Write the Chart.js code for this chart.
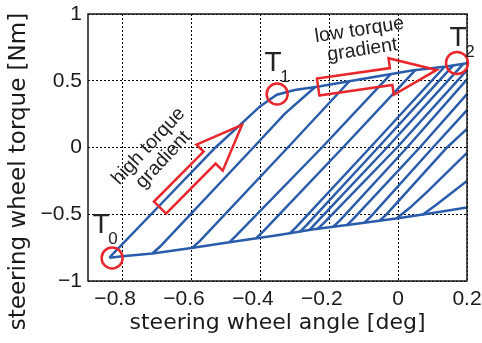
<!DOCTYPE html>
<html>
<head>
<meta charset="utf-8">
<script src="https://cdn.jsdelivr.net/npm/chart.js@4.4.1/dist/chart.umd.min.js"></script>
<style>
  html, body { margin: 0; padding: 0; background: #fff; }
  #wrap { width: 482px; height: 343px; }
</style>
</head>
<body>
<div id="wrap"><canvas id="chart" width="482" height="343"></canvas></div>
<script>
// steering wheel angle [deg] vs torque [Nm]
const upperBranch = [[-0.838, -0.825], [-0.7, -0.455], [-0.53, 0], [-0.45, 0.19], [-0.4, 0.31],
  [-0.352, 0.395], [-0.3, 0.43], [-0.23, 0.457], [-0.1, 0.515], [0.04, 0.577], [0.14, 0.607], [0.2, 0.632]];
const lowerBranch = [[0.2, -0.45], [0.1, -0.49], [0, -0.53], [-0.12, -0.572], [-0.245, -0.613],
  [-0.35, -0.658], [-0.49, -0.71], [-0.6, -0.752], [-0.713, -0.794], [-0.8, -0.815], [-0.838, -0.825]];
const innerLoops = [
  [[-0.713, -0.794], [-0.69, -0.74], [-0.42, 0], [-0.33, 0.25], [-0.24, 0.455]],
  [[-0.597, -0.75], [-0.575, -0.7], [-0.32, 0], [-0.14, 0.5]],
  [[-0.49, -0.71], [-0.47, -0.66], [-0.221, 0], [-0.02, 0.553]],
  [[-0.41, -0.675], [-0.39, -0.625], [-0.16, 0], [0.05, 0.58]],
  [[-0.315, -0.645], [-0.295, -0.595], [-0.081, 0], [0.135, 0.605]],
  [[-0.285, -0.632], [-0.265, -0.58], [-0.058, 0], [0.16, 0.615]],
  [[-0.258, -0.62], [-0.24, -0.57], [-0.032, 0], [0.19, 0.628]],
  [[-0.235, -0.613], [-0.215, -0.565], [-0.003, 0], [0.2, 0.58]],
  [[-0.19, -0.597], [-0.17, -0.55], [0.026, 0], [0.2, 0.51]],
  [[-0.15, -0.585], [-0.13, -0.535], [0.063, 0], [0.2, 0.4]],
  [[-0.1, -0.568], [-0.08, -0.52], [0.101, 0], [0.2, 0.28]],
  [[-0.055, -0.552], [-0.035, -0.505], [0.142, 0], [0.2, 0.14]],
  [[-0.005, -0.532], [0.035, -0.45], [0.085, -0.33], [0.2, -0.04]],
  [[0.07, -0.505], [0.11, -0.43], [0.2, -0.25]]
];
const xTicks = [-0.8, -0.6, -0.4, -0.2, 0, 0.2];
const yTicks = [-1, -0.5, 0, 0.5, 1];
const yTitle = 'steering wheel torque [Nm]';

const BLUE = '#2a5cab';
const RED = '#e8262b';

const toPts = arr => arr.map(([x, y]) => ({ x, y }));
const fmt = v => String(v).replace('-', '\u2212');

// red markers and arrows, in data coordinates
const circles = [
  { x: -0.830, y: -0.828, r: 10.5 },
  { x: -0.351, y: 0.401, r: 10.5 },
  { x: 0.171, y: 0.633, r: 11 }
];
const pointLabels = [
  { x: -0.862, y: -0.581, sub: '0' },
  { x: -0.363, y: 0.633, sub: '1' },
  { x: 0.174, y: 0.820, sub: '2' }
];
const arrows = [
  { from: [-0.691, -0.450], to: [-0.453, 0.169] },
  { from: [-0.232, 0.453], to: [0.112, 0.581] }
];
const notes = [
  { x: -0.703, y: -0.041, rot: -47, lines: ['high torque', 'gradient'] },
  { x: -0.108, y: 0.805, rot: -8.6, lines: ['low torque', 'gradient'] }
];

function blockArrow(ctx, x0, y0, x1, y1) {
  const dx = x1 - x0, dy = y1 - y0;
  const len = Math.hypot(dx, dy);
  const ux = dx / len, uy = dy / len;
  const nx = -uy, ny = ux;
  const body = 8.5, head = 18.5, headLen = 46;
  const bx = x1 - ux * headLen, by = y1 - uy * headLen;
  ctx.beginPath();
  ctx.moveTo(x0 + nx * body, y0 + ny * body);
  ctx.lineTo(bx + nx * body, by + ny * body);
  ctx.lineTo(bx + nx * head, by + ny * head);
  ctx.lineTo(x1, y1);
  ctx.lineTo(bx - nx * head, by - ny * head);
  ctx.lineTo(bx - nx * body, by - ny * body);
  ctx.lineTo(x0 - nx * body, y0 - ny * body);
  ctx.closePath();
  ctx.stroke();
}

const annotPlugin = {
  id: 'annot',
  afterDatasetsDraw(chart) {
    const { ctx, chartArea: a, scales: { x, y } } = chart;
    ctx.save();
    // axes box
    ctx.strokeStyle = '#1a1a1a';
    ctx.lineWidth = 1.5;
    ctx.strokeRect(a.left, a.top, a.right - a.left, a.bottom - a.top);

    ctx.strokeStyle = RED;
    ctx.lineWidth = 2.5;
    circles.forEach(c => {
      ctx.beginPath();
      ctx.arc(x.getPixelForValue(c.x), y.getPixelForValue(c.y), c.r, 0, Math.PI * 2);
      ctx.stroke();
    });
    arrows.forEach(ar => {
      blockArrow(ctx, x.getPixelForValue(ar.from[0]), y.getPixelForValue(ar.from[1]),
        x.getPixelForValue(ar.to[0]), y.getPixelForValue(ar.to[1]));
    });

    ctx.fillStyle = '#222';
    ctx.textAlign = 'center';
    ctx.textBaseline = 'middle';
    pointLabels.forEach(p => {
      const px = x.getPixelForValue(p.x), py = y.getPixelForValue(p.y);
      ctx.font = '28px "Liberation Sans", Arial, sans-serif';
      ctx.fillText('T', px, py);
      ctx.font = '17px "Liberation Sans", Arial, sans-serif';
      ctx.fillText(p.sub, px + 12, py + 14);
    });

    ctx.font = '19.5px "Liberation Sans", Arial, sans-serif';
    notes.forEach(n => {
      ctx.save();
      ctx.translate(x.getPixelForValue(n.x), y.getPixelForValue(n.y));
      ctx.rotate(n.rot * Math.PI / 180);
      ctx.fillText(n.lines[0], 0, -10);
      ctx.fillText(n.lines[1], 0, 10);
      ctx.restore();
    });

    // y axis title, centred on the whole figure height like the original
    ctx.fillStyle = '#1a1a1a';
    ctx.font = '23px "DejaVu Sans", sans-serif';
    ctx.translate(19, chart.height / 2);
    ctx.rotate(-Math.PI / 2);
    ctx.fillText(yTitle, 0, 0);
    ctx.restore();
  }
};

const datasets = [
  { data: toPts(upperBranch) },
  { data: toPts(lowerBranch) },
  ...innerLoops.map(l => ({ data: toPts(l) }))
].map(d => Object.assign(d, {
  showLine: true, borderColor: BLUE, borderWidth: 2.5, pointRadius: 0, fill: false, tension: 0
}));

const tickFont = { family: '"Liberation Sans", Arial, sans-serif', size: 21 };
const titleFont = { family: '"DejaVu Sans", sans-serif', size: 22 };

new Chart(document.getElementById('chart').getContext('2d'), {
  type: 'scatter',
  data: { datasets },
  options: {
    responsive: false,
    animation: false,
    layout: { padding: { top: 14, right: 15, left: 0, bottom: 0 } },
    plugins: { legend: { display: false }, tooltip: { enabled: false } },
    scales: {
      x: {
        type: 'linear', min: -0.9, max: 0.2,
        afterBuildTicks: s => { s.ticks = xTicks.map(v => ({ value: v })); },
        // fixed height, and don't let the "0.2" label shrink the plot area
        afterFit: s => { s.height = 62; s.paddingLeft = 0; s.paddingRight = 0; },
        grid: { color: '#000', lineWidth: 1, drawTicks: false },
        border: { display: false, dash: [2, 2] },
        // original centres the digits and lets the minus sign hang to the left
        ticks: { color: '#1a1a1a', font: tickFont, padding: 6, maxRotation: 0,
          callback: v => v < 0 ? fmt(v) + '\u2002\u2009' : fmt(v) },
        title: { display: true, text: 'steering wheel angle [deg]', color: '#1a1a1a', font: titleFont,
          padding: { top: 0, bottom: 7 } }
      },
      y: {
        type: 'linear', min: -1, max: 1,
        afterBuildTicks: s => { s.ticks = yTicks.map(v => ({ value: v })); },
        afterFit: s => { s.width = 88; s.paddingTop = 0; s.paddingBottom = 0; },
        grid: { color: '#000', lineWidth: 1, drawTicks: false },
        border: { display: false, dash: [2, 2] },
        ticks: { color: '#1a1a1a', font: tickFont, padding: 6, callback: v => fmt(v) },
        title: { display: false }
      }
    }
  },
  plugins: [annotPlugin]
});
</script>
</body>
</html>
